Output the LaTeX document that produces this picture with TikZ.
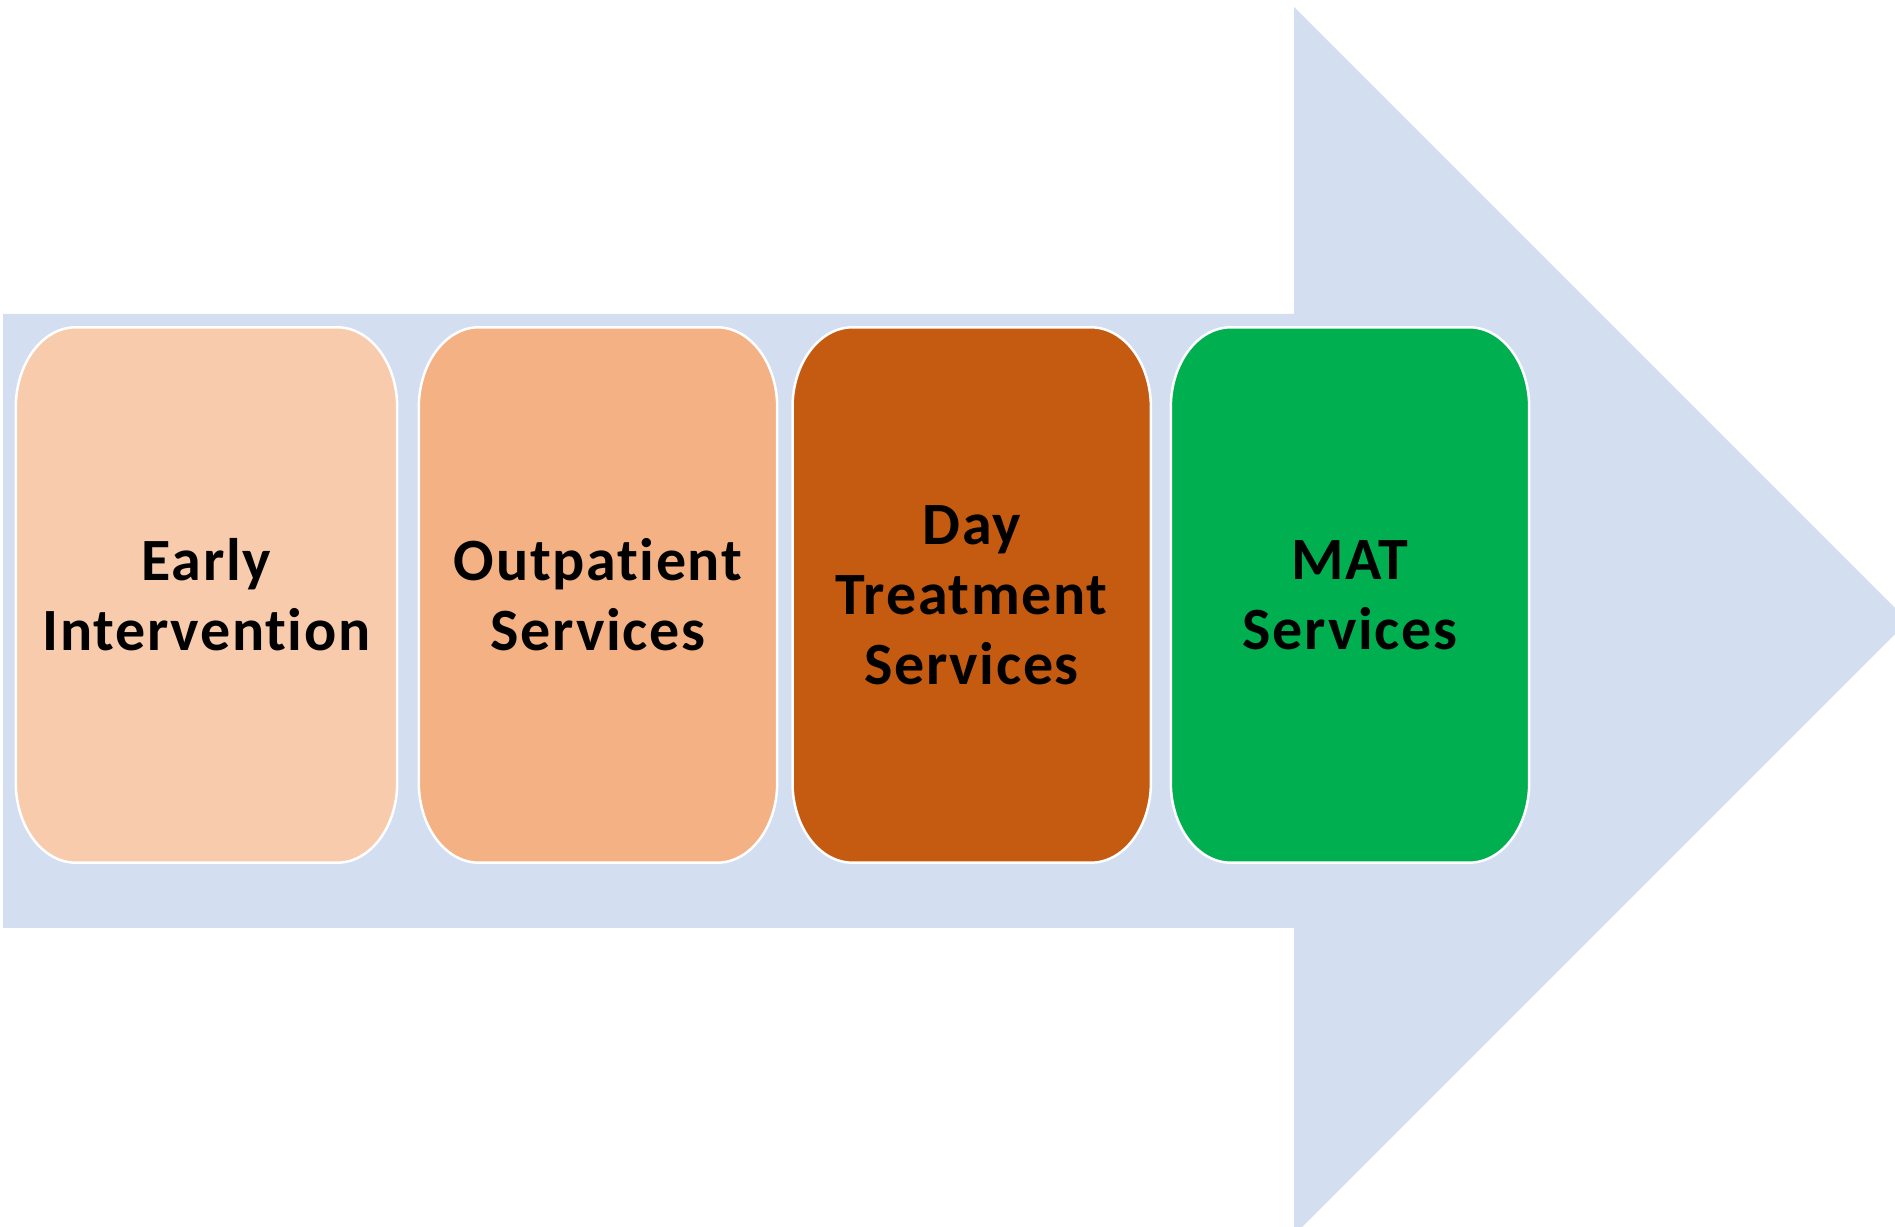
\documentclass[tikz,border=0pt]{standalone}
\usepackage{fontspec}
\setmainfont{Carlito}[Ligatures = NoCommon, LetterSpace = 2.8]
\usetikzlibrary{calc, backgrounds}

\definecolor{arrowblue}{HTML}{D3DEF0}
\definecolor{peachlight}{HTML}{F8CBAD}
\definecolor{peach}{HTML}{F4B183}
\definecolor{rust}{HTML}{C55A11}
\definecolor{mat}{HTML}{00B050}

\tikzset{
	stage/.style = {minimum width = 358pt, minimum height = 535pt, inner sep = 0pt,
		align = center, font = \fontsize{60}{70}\selectfont\bfseries}
}

\newcommand{\stageshape}[2]{
	\path[fill = #2, draw = white, line width = 2.5pt]
		($(#1.south west) + (0, 80)$) --
		($(#1.north west) + (0, -80)$) arc[start angle = 180, end angle = 90, x radius = 60pt, y radius = 80pt] --
		($(#1.north east) + (-60, 0)$) arc[start angle = 90, end angle = 0, x radius = 60pt, y radius = 80pt] --
		($(#1.south east) + (0, 80)$) arc[start angle = 0, end angle = -90, x radius = 60pt, y radius = 80pt] --
		($(#1.south west) + (60, 0)$) arc[start angle = 270, end angle = 180, x radius = 60pt, y radius = 80pt] --
		cycle;
}

\begin{document}
\begin{tikzpicture}[x = 1pt, y = 1pt]
\useasboundingbox (0, 0) rectangle (1895, 1226);

\node[stage, minimum width = 381pt] (early) at (206.5, 631) {Early\\Intervention};
\node[stage] (outpatient) at (598, 631) {Outpatient\\Services};
\node[stage] (day) at (971.7, 631) {Day\\Treatment\\Services};
\node[stage] (mat) at (1350, 631) {MAT\\Services};

\begin{scope}[on background layer]
\fill[arrowblue]
	(3, 298) -- (1294, 298) -- (1294, -9) -- (1908, 605) --
	(1294, 1219) -- (1294, 912) -- (3, 912) -- cycle;
\foreach \name/\col in {early/peachlight, outpatient/peach, day/rust, mat/mat}
	{\stageshape{\name}{\col}}
\end{scope}
\end{tikzpicture}
\end{document}
